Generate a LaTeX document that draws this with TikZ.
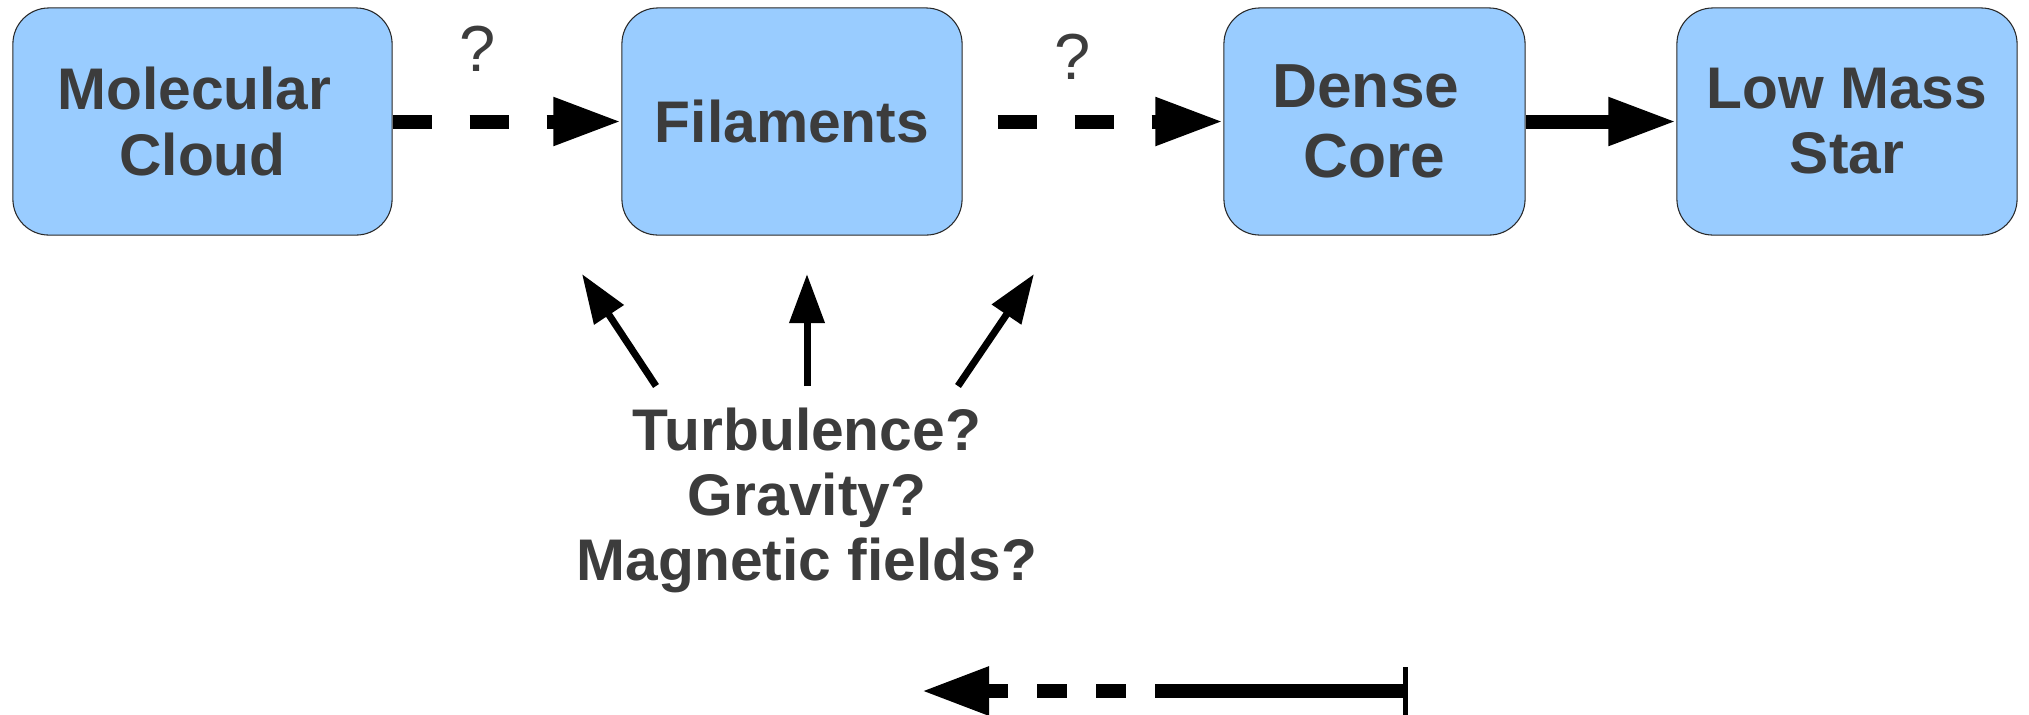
\documentclass[tikz,border=0pt]{standalone}
\usepackage{fontspec}
\setmainfont{Liberation Sans}
\usetikzlibrary{arrows.meta}

\definecolor{boxfill}{RGB}{153,204,255}
\definecolor{boxline}{RGB}{40,40,40}
\definecolor{ink}{RGB}{60,60,60}

% width of one word space in the label font
\newcommand{\tailspace}{\makebox[0.278em]{}}

\tikzset{
  stage/.style={draw=boxline, line width=0.3pt, fill=boxfill, rounded corners=0.36cm,
    minimum height=2.27cm, inner sep=0pt, align=center, text=ink,
    font=\bfseries\fontsize{16.7pt}{18.5pt}\selectfont},
  bigstage/.style={stage, font=\bfseries\fontsize{17.7pt}{19.9pt}\selectfont},
  query/.style={inner sep=0pt, text=ink, font=\fontsize{18.5pt}{20pt}\selectfont},
  flow/.style={line width=0.14cm, -{Triangle[length=0.68cm,width=0.45cm]}},
  dashflow/.style={flow, dash pattern=on 0.39cm off 0.38cm},
  push/.style={line width=0.07cm, -{Triangle[length=0.49cm,width=0.34cm]}},
  causes/.style={inner sep=0pt, align=center, text=ink,
    font=\bfseries\fontsize{16.7pt}{18.5pt}\selectfont}
}

\begin{document}
\begin{tikzpicture}[x=0.01cm, y=-0.01cm]
  \useasboundingbox (0,0) rectangle (2029,714);

  % evolutionary stages
  \node[stage, minimum width=3.79cm]    (mc)  at (202.5,121.5) {Molecular\tailspace\\Cloud};
  \node[stage, minimum width=3.40cm]    (fil) at (792,121.5)   {Filaments};
  \node[bigstage, minimum width=3.01cm] (dc)  at (1374.5,121.5){Dense\tailspace\\Core};
  \node[stage, minimum width=3.40cm]    (lms) at (1847,121.5)  {Low Mass\\Star};

  % uncertain transitions
  \node[query] (q1) at (478,48.5) {?};
  \node[query] (q2) at (1072.5,56.5) {?};

  \draw[dashflow] (mc.east) -- (fil.west);
  \draw[dashflow, dash phase=0.42cm] (fil.east) -- (dc.west);
  \draw[flow] (dc.east) -- (lms.west);

  % candidate physical drivers acting on filaments
  \node[causes, anchor=north] (drv) at (807,407)
    {Turbulence?\\Gravity?\\Magnetic fields?};

  \coordinate (t1) at (656,386);  \coordinate (h1) at (582,274);
  \coordinate (t2) at (807,386);  \coordinate (h2) at (807,274);
  \coordinate (t3) at (958,386);  \coordinate (h3) at (1034,274);
  \draw[push] (t1) -- (h1);
  \draw[push] (t2) -- (h2);
  \draw[push] (t3) -- (h3);

  % solid-to-dashed arrow with a stop bar
  \coordinate (barend) at (1408,691);
  \coordinate (split)  at (1185,691);
  \coordinate (tipend) at (921,691);
  \draw[line width=0.145cm, {Bar[width=0.48cm,line width=0.05cm]}-] (barend) -- (split);
  \draw[line width=0.145cm, dash pattern=on 0.295cm off 0.295cm,
        -{Triangle[length=0.68cm,width=0.45cm]}] (split) -- (tipend);
\end{tikzpicture}
\end{document}
